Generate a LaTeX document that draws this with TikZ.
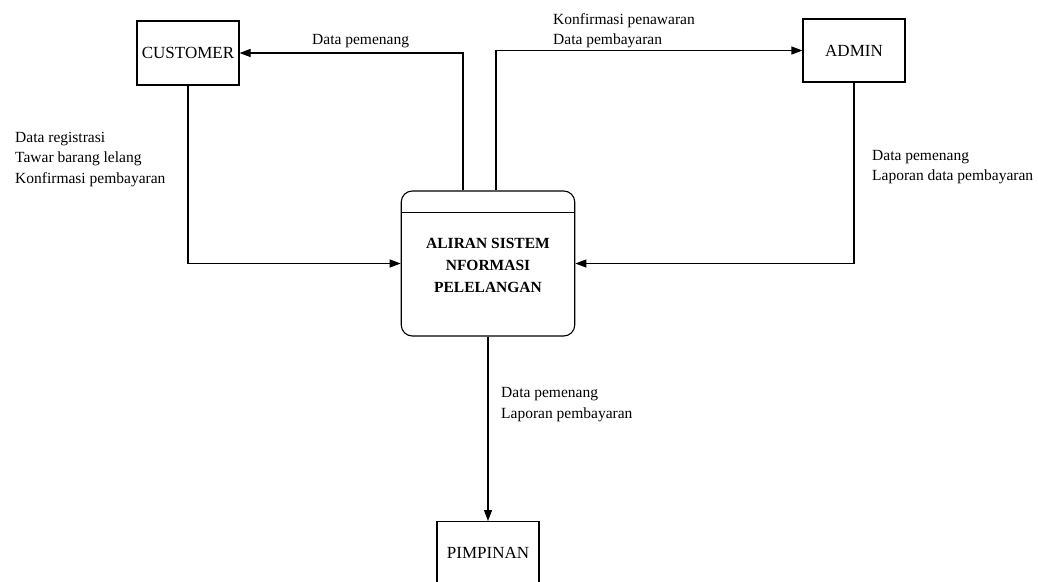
\documentclass[tikz,border=0pt]{standalone}
\usepackage{fontspec}
\setmainfont{Liberation Serif}
\usetikzlibrary{arrows.meta}

\begin{document}
\begin{tikzpicture}[x=1pt,y=-1pt,
  every node/.style={font=\fontsize{15.5}{20.5}\selectfont},
  entity/.style={draw, line width=1.1pt, fill=white, inner sep=0pt,
                 font=\fontsize{17}{20}\selectfont},
  flow/.style={draw, line width=1.1pt, -{Triangle[length=11pt,width=8pt]}},
  lbl/.style={anchor=west, align=left, inner sep=0pt}]
  \useasboundingbox (0,0) rectangle (1038,581);
  \clip (0,0) rectangle (1038,581);

  % external entities
  \node[entity, minimum width=102pt, minimum height=64pt] (cust) at (188,53) {CUSTOMER};
  \node[entity, minimum width=102pt, minimum height=63pt] (admin) at (854,50.5) {ADMIN};
  \node[entity, minimum width=102pt, minimum height=64pt, anchor=north] (pimp) at (488,521) {};
  \node[font=\fontsize{17}{20}\selectfont] (ptitle) at (488,553) {PIMPINAN};

  % central process with its header strip
  \node[draw, line width=1.1pt, rounded corners=11pt, minimum width=173.5pt,
        minimum height=145pt, inner sep=0pt] (proc) at (488,263.5) {};
  \draw[line width=1.1pt] ([yshift=-22pt]proc.north west) -- ([yshift=-22pt]proc.north east);
  \node[align=center, font=\fontsize{15.5}{22}\selectfont\bfseries] (ptext) at (488,265)
    {ALIRAN SISTEM\\NFORMASI\\PELELANGAN};

  % data flows
  \draw[flow] (cust.south) |- (proc.west);
  \draw[flow] (admin.south) |- (proc.east);
  \draw[flow] (proc.south) -- (pimp.north);
  \draw[flow] ([xshift=-25pt]proc.north) |- (cust.east);
  \draw[flow] ([xshift=8pt]proc.north) |- (admin.west);

  % flow labels
  \node[lbl] (l1) at (312,41) {Data pemenang};
  \node[lbl] (l2) at (553,30.5) {Konfirmasi penawaran\\Data pembayaran};
  \node[lbl] (l3) at (15,159.5) {Data registrasi\\Tawar barang lelang\\Konfirmasi pembayaran};
  \node[lbl] (l4) at (872,167) {Data pemenang\\Laporan data pembayaran};
  \node[lbl] (l5) at (501,404.5) {Data pemenang\\Laporan pembayaran};
\end{tikzpicture}
\end{document}
